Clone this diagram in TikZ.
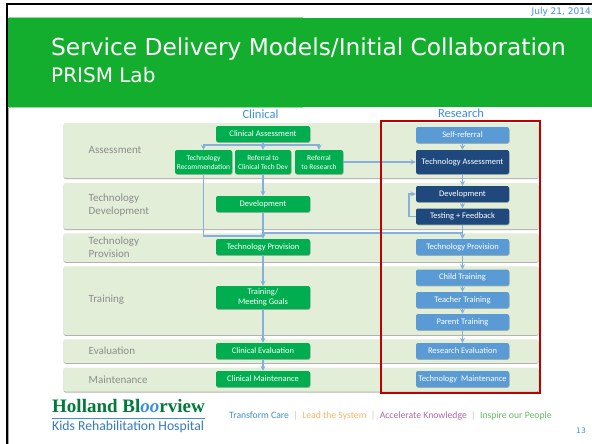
\documentclass[tikz,border=0pt]{standalone}
\usepackage{fontspec, xcolor}
\setmainfont{Carlito}
\newfontfamily\titlefont{DejaVu Sans}
\newfontfamily\logofont{Liberation Serif}
\usetikzlibrary{arrows, positioning, shadows}
\definecolor{headGreen}{HTML}{14AE2E}
\definecolor{bandGreen}{HTML}{E2EED8}
\definecolor{boxGreen}{HTML}{00AE50}
\definecolor{boxDark}{HTML}{1F497D}
\definecolor{boxLight}{HTML}{5B9BD5}
\definecolor{lineBlue}{HTML}{85B0DC}
\definecolor{titleBlue}{HTML}{3E8EDE}
\definecolor{labelGray}{HTML}{8C8C8C}
\begin{document}
\begin{tikzpicture}[x=1pt, y=-1pt]
		\tikzstyle{Band} = [rectangle, rounded corners=2pt, minimum width=475pt, inner sep=0pt, fill=bandGreen, drop shadow={shadow xshift=0pt, shadow yshift=-1pt, opacity=0.3, fill=black}]
		\tikzstyle{Box} = [rectangle, rounded corners=2pt, inner sep=0pt, align=center, text=white, font=\fontsize{8.5}{10.5}\selectfont, drop shadow={shadow xshift=0.5pt, shadow yshift=-0.8pt, opacity=0.25, fill=black}]
		\tikzstyle{Clin} = [Box, minimum width=94pt, minimum height=16pt, fill=boxGreen]
		\tikzstyle{Small} = [Box, minimum height=24pt, fill=boxGreen, font=\fontsize{7.4}{9}\selectfont]
		\tikzstyle{Res} = [Box, minimum width=93pt, minimum height=16pt, fill=boxLight]
		\tikzstyle{ResDark} = [Res, fill=boxDark]
		\tikzstyle{Stage} = [anchor=west, align=left, inner sep=0pt, text=labelGray, font=\fontsize{11}{13}\selectfont]
		\tikzstyle{arrow} = [line width=1.2pt, draw=lineBlue, ->, >=stealth]
		\tikzstyle{plain} = [line width=1.2pt, draw=lineBlue]
		\tikzstyle{Head} = [text=titleBlue, font=\fontsize{12.5}{14}\selectfont]
		
		\useasboundingbox (0,0) rectangle (592,444);
		\fill [white] (0,0) rectangle (592,444);
		
		% header
		\fill [headGreen] (6,18) rectangle (592,107);
		\draw [line width=1pt, black!35] (8.5,108) -- (8.5,444);
		\draw [line width=0.7pt, headGreen!45] (9,17.6) -- (303,17.6);
		\draw [line width=0.7pt, headGreen!45] (9,107.4) -- (303,107.4);
		\draw [line width=2pt, black] (7,444) -- (7,4) -- (592,4);
		\node (date) [anchor=east, inner sep=0pt, text=titleBlue, font=\titlefont\fontsize{9}{10}\selectfont] at (591,12.5) {July 21, 2014};
		\node (title) [anchor=west, inner sep=0pt, text=white, font=\titlefont\fontsize{23.3}{27}\selectfont] at (51,49) {Service Delivery Models/Initial Collaboration};
		\node (sub) [anchor=west, inner sep=0pt, text=white, font=\titlefont\fontsize{20}{23}\selectfont] at (51,75) {PRISM Lab};
		
		% stages
		\node (b1) [Band, minimum height=55pt] at (301,150.5) {};
		\node (b2) [Band, minimum height=46pt] at (301,206) {};
		\node (b3) [Band, minimum height=28.5pt] at (301,247.5) {};
		\node (b4) [Band, minimum height=68.5pt] at (301,300.5) {};
		\node (b5) [Band, minimum height=23.5pt] at (301,351) {};
		\node (b6) [Band, minimum height=24pt] at (301,379.5) {};
		
		\node (s1) [Stage] at (88.5,150) {Assessment};
		\node (s2) [Stage] at (88.5,205.5) {Technology\\Development};
		\node (s3) [Stage] at (88.5,247.5) {Technology\\Provision};
		\node (s4) [Stage] at (88.5,300) {Training};
		\node (s5) [Stage] at (88.5,351) {Evaluation};
		\node (s6) [Stage] at (88.5,379.5) {Maintenance};
		
		\node (clinical) [Head] at (260.5,114) {Clinical};
		\node (research) [Head] at (461,113.5) {Research};
		
		% clinical column
		\node (c1) [Clin] at (263,134) {Clinical Assessment};
		\node (c2) [Small, minimum width=57pt] at (203.5,162) {Technology\\Recommendation};
		\node (c3) [Small, minimum width=56pt] at (263,162) {Referral to\\Clinical Tech Dev};
		\node (c4) [Small, minimum width=48pt] at (319,162) {Referral\\to Research};
		\node (c5) [Clin] at (263,204) {Development};
		\node (c6) [Clin] at (263,247) {Technology Provision};
		\node (c7) [Clin, minimum height=23pt] at (263,297.5) {Training/\\Meeting Goals};
		\node (c8) [Clin] at (263,351) {Clinical Evaluation};
		\node (c9) [Clin] at (263,379) {Clinical Maintenance};
		
		% research column
		\node (r1) [Res] at (462.5,135) {Self-referral};
		\node (r2) [ResDark, minimum height=24pt] at (462.5,162) {Technology Assessment};
		\node (r3) [ResDark] at (462.5,194) {Development};
		\node (r4) [ResDark] at (462.5,216.5) {Testing + Feedback};
		\node (r5) [Res] at (462.5,247) {Technology Provision};
		\node (r6) [Res] at (462.5,277.5) {Child Training};
		\node (r7) [Res] at (462.5,300) {Teacher Training};
		\node (r8) [Res] at (462.5,322) {Parent Training};
		\node (r9) [Res] at (462.5,351) {Research Evaluation};
		\node (r10) [Res] at (462.5,379) {Technology\ \ Maintenance};
		
		% clinical connectors
		\coordinate (busC) at (263,145);
		\coordinate (busL) at (203.5,145);
		\coordinate (busR) at (319,145);
		\coordinate (joinC) at (263,233);
		\coordinate (joinL) at (203.5,236);
		\coordinate (joinM) at (263,236);
		\draw [plain] (c1) -- (busC);
		\draw [arrow] (busC) -- (busL) -- (c2);
		\draw [arrow] (busC) -- (busR) -- (c4);
		\draw [arrow] (busC) -- (c3);
		\draw [arrow] (c3) -- (c5);
		\draw [arrow] (c5) -- (c6);
		\draw [plain] (c2) -- (joinL) -- (joinM);
		\draw [arrow] (c6) -- (c7);
		\draw [arrow] (c7) -- (c8);
		\draw [arrow] (c8) -- (c9);
		
		% research connectors
		\coordinate (joinR) at (462.5,233);
		\coordinate (loopB) at (409,216.5);
		\coordinate (loopT) at (409,194);
		\draw [arrow] (c4) -- (r2);
		\draw [arrow] (r1) -- (r2);
		\draw [arrow] (r2) -- (r3);
		\draw [arrow] (r3) -- (r4);
		\draw [arrow] (r4) -- (loopB) -- (loopT) -- (r3);
		\draw [plain] (joinR) -- (joinC);
		\draw [arrow] (r4) -- (r5);
		\draw [arrow] (r5) -- (r6);
		\draw [arrow] (r6) -- (r7);
		\draw [arrow] (r7) -- (r8);
		\draw [arrow] (r8) -- (r9);
		
		\node (frame) [draw=red!75!black, line width=2pt, minimum width=159pt, minimum height=272pt, inner sep=0pt] at (460.5,257) {};
		
		% footer
		\node (logo) [anchor=west, inner sep=0pt, text=boxGreen!70!black, font=\logofont\bfseries\fontsize{19}{22}\selectfont] at (52,406) {Holland Bl\textcolor{titleBlue}{\itshape oo}rview};
		\coordinate (ruleL) at (52,418);
		\coordinate (ruleR) at (205,418);
		\draw [line width=0.7pt, titleBlue] (ruleL) -- (ruleR);
		\node (kids) [anchor=west, inner sep=0pt, text=titleBlue!85!black, font=\fontsize{13.7}{15}\selectfont] at (52,427) {Kids Rehabilitation Hospital};
		\node (slogan) [anchor=west, inner sep=0pt, font=\fontsize{9.7}{12}\selectfont] at (229,415.5) {\textcolor{titleBlue}{Transform Care}\textcolor{labelGray!50}{\ \ |\ \ }\textcolor{orange!60}{Lead the System}\textcolor{labelGray!50}{\ \ |\ \ }\textcolor{violet!60}{Accelerate Knowledge}\textcolor{labelGray!50}{\ \ |\ \ }\textcolor{green!55!black!60}{Inspire our People}};
		\node (page) [inner sep=0pt, text=titleBlue, font=\titlefont\fontsize{7.5}{9}\selectfont] at (581,431) {13};
\end{tikzpicture}
\end{document}
